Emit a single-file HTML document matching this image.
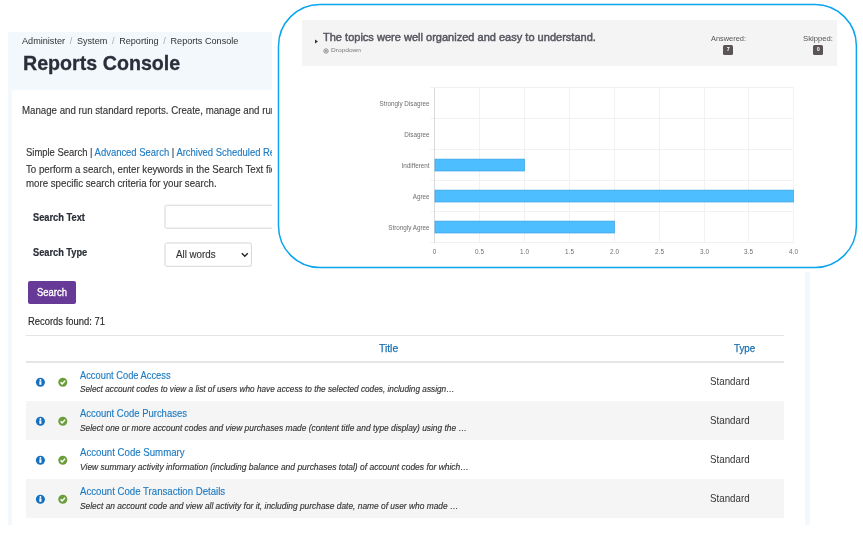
<!DOCTYPE html>
<html lang="en">
<head>
<meta charset="utf-8">
<title>Reports Console</title>
<style>
html,body{margin:0;padding:0;}
body{width:863px;height:534px;overflow:hidden;background:#fff;position:relative;
  font-family:"Liberation Sans",sans-serif;color:#333;}
.abs{position:absolute;white-space:nowrap;line-height:1;transform-origin:0 50%;}
#pagebg{left:8px;top:32px;width:802px;height:492.6px;background:#f2f8fc;}
#card{left:12px;top:90px;width:793px;height:434.6px;background:#fff;border-radius:2.5px 2.5px 0 0;}
.t{font-size:11.2px;color:#333;transform-origin:0 50%;-webkit-text-stroke:0.15px #333;}
.lnk{color:#1b7ac2;-webkit-text-stroke:0.15px #1b7ac2;}
.b{font-weight:bold;color:#2a2e38;font-size:10px;-webkit-text-stroke:0.2px #2a2e38;}
#crumb{left:22px;top:36.2px;font-size:9.8px;color:#333;}
#crumb i{font-style:normal;color:#aaa;padding:0 5px;}
#h1{left:22.8px;top:52.65px;font-size:20.5px;font-weight:bold;color:#2b2e3a;-webkit-text-stroke:0.3px #2b2e3a;}
.row{left:25.5px;width:758.5px;height:39px;}
.gray{background:#f5f5f5;}
.ttl{left:79.7px;font-size:11.4px;color:#1b7ac2;-webkit-text-stroke:0.15px #1b7ac2;}
.dsc{left:79.5px;font-size:8.6px;font-style:italic;color:#333;-webkit-text-stroke:0.15px #333;}
.std{left:709.7px;font-size:11.2px;color:#333;}
.ico{width:9px;height:9px;}
#ovl{left:272px;top:0;width:591px;height:272px;background:#fff;}
#qhead{left:302px;top:20px;width:535px;height:45.5px;background:#f4f4f4;}
</style>
</head>
<body>
<div class="abs" id="pagebg"></div>
<div class="abs" id="card"></div>

<div class="abs" id="crumb" style="transform:scaleX(0.9303);">Administer<i>/</i>System<i>/</i>Reporting<i>/</i>Reports Console</div>
<div class="abs" id="h1" style="transform:scaleX(0.9584);">Reports Console</div>

<div class="abs t" id="p1" style="transform:scaleX(0.8659);left:22px;top:105px;">Manage and run standard reports. Create, manage and run scheduled reports from this console.</div>

<div class="abs t" id="p2" style="transform:scaleX(0.8443);left:26px;top:146.5px;">Simple Search | <span class="lnk">Advanced Search</span> | <span class="lnk">Archived Scheduled Reports</span></div>
<div class="abs t" id="p3" style="transform:scaleX(0.8659);left:26px;top:164px;">To perform a search, enter keywords in the Search Text field. Use the Advanced Search for</div>
<div class="abs t" id="p4" style="transform:scaleX(0.8659);left:26px;top:178px;">more specific search criteria for your search.</div>

<div class="abs t b" id="l1" style="transform:scaleX(0.9276);left:33px;top:212.8px;">Search Text</div>

<div class="abs t b" id="l2" style="transform:scaleX(0.9228);left:33px;top:247.8px;">Search Type</div>
<svg class="abs" id="fields" style="left:150px;top:195px;" width="150" height="80" viewBox="150 195 150 80"><rect x="165" y="205.2" width="300" height="23" rx="1.6" fill="#fff" stroke="#d3d7d7" stroke-width="1"/><rect x="165" y="243" width="86.4" height="23.3" rx="1.6" fill="#fff" stroke="#d3d7d7" stroke-width="1"/><path d="M241.8 253.2 L244.8 256.2 L247.8 253.2" fill="none" stroke="#222" stroke-width="1.4"/></svg>
<div class="abs t" id="selt" style="transform:scaleX(0.8488);left:176px;top:249px;font-size:11.5px;">All words</div>

<div class="abs" id="btn" style="left:27.5px;top:280.5px;width:48.5px;height:23px;background:#683a97;border-radius:2px;"></div>
<div class="abs" id="btnt" style="transform:scaleX(0.8284);left:37px;top:286.5px;font-size:11.4px;color:#fff;-webkit-text-stroke:0.35px #fff;">Search</div>
<div class="abs t" id="rec" style="transform:scaleX(0.8410);left:27.8px;top:315.6px;color:#222;">Records found: 71</div>

<div class="abs" id="ln1" style="left:25.5px;top:335px;width:758.5px;height:1px;background:#e4e4e4;"></div>
<div class="abs" id="ln2" style="left:25.5px;top:361px;width:758.5px;height:2px;background:#e5e5e5;"></div>
<div class="abs" id="thTitle" style="transform:scaleX(0.9260);left:379.2px;top:342.5px;font-size:11.2px;color:#1a6faf;-webkit-text-stroke:0.25px #1a6faf;">Title</div>
<div class="abs" id="thType" style="transform:scaleX(0.8778);left:733.5px;top:342.5px;font-size:11.2px;color:#1a6faf;-webkit-text-stroke:0.25px #1a6faf;">Type</div>

<div class="abs row gray" style="top:401.2px;"></div>
<div class="abs row gray" style="top:479.1px;"></div>

<!-- row 1 -->
<div class="abs ttl" id="r1t" style="transform:scaleX(0.8176);top:369.7px;">Account Code Access</div>
<div class="abs dsc" id="r1d" style="transform:scaleX(0.9593);top:385.3px;">Select account codes to view a list of users who have access to the selected codes, including assign…</div>
<div class="abs std" id="r1s" style="transform:scaleX(0.8721);top:376px;">Standard</div>
<!-- row 2 -->
<div class="abs ttl" id="r2t" style="transform:scaleX(0.8316);top:408px;">Account Code Purchases</div>
<div class="abs dsc" id="r2d" style="transform:scaleX(0.9732);top:424.3px;">Select one or more account codes and view purchases made (content title and type display) using the …</div>
<div class="abs std" id="r2s" style="transform:scaleX(0.8721);top:415px;">Standard</div>
<!-- row 3 -->
<div class="abs ttl" id="r3t" style="transform:scaleX(0.8473);top:447.2px;">Account Code Summary</div>
<div class="abs dsc" id="r3d" style="transform:scaleX(0.9858);top:463.3px;">View summary activity information (including balance and purchases total) of account codes for which…</div>
<div class="abs std" id="r3s" style="transform:scaleX(0.8721);top:454px;">Standard</div>
<!-- row 4 -->
<div class="abs ttl" id="r4t" style="transform:scaleX(0.8462);top:486px;">Account Code Transaction Details</div>
<div class="abs dsc" id="r4d" style="transform:scaleX(0.9755);top:502.3px;">Select an account code and view all activity for it, including purchase date, name of user who made …</div>
<div class="abs std" id="r4s" style="transform:scaleX(0.8721);top:493px;">Standard</div>

<!-- icons -->
<svg class="abs" style="left:0;top:0;" width="100" height="534" viewBox="0 0 100 534">
  <g id="icons">
    <g transform="translate(40.4,382.3)"><circle r="4.5" fill="#1670c0"/><rect x="-1.05" y="-1" width="2.1" height="3.5" fill="#fff"/><circle cy="-2.3" r="0.95" fill="#fff"/></g>
    <g transform="translate(62.8,382.3)"><circle r="4.5" fill="#6a9e3a"/><path d="M-2.2 0 L-0.7 1.6 L2.3 -1.5" fill="none" stroke="#fff" stroke-width="1.5"/></g>
    <g transform="translate(40.4,421.3)"><circle r="4.5" fill="#1670c0"/><rect x="-1.05" y="-1" width="2.1" height="3.5" fill="#fff"/><circle cy="-2.3" r="0.95" fill="#fff"/></g>
    <g transform="translate(62.8,421.3)"><circle r="4.5" fill="#6a9e3a"/><path d="M-2.2 0 L-0.7 1.6 L2.3 -1.5" fill="none" stroke="#fff" stroke-width="1.5"/></g>
    <g transform="translate(40.4,460.3)"><circle r="4.5" fill="#1670c0"/><rect x="-1.05" y="-1" width="2.1" height="3.5" fill="#fff"/><circle cy="-2.3" r="0.95" fill="#fff"/></g>
    <g transform="translate(62.8,460.3)"><circle r="4.5" fill="#6a9e3a"/><path d="M-2.2 0 L-0.7 1.6 L2.3 -1.5" fill="none" stroke="#fff" stroke-width="1.5"/></g>
    <g transform="translate(40.4,499.3)"><circle r="4.5" fill="#1670c0"/><rect x="-1.05" y="-1" width="2.1" height="3.5" fill="#fff"/><circle cy="-2.3" r="0.95" fill="#fff"/></g>
    <g transform="translate(62.8,499.3)"><circle r="4.5" fill="#6a9e3a"/><path d="M-2.2 0 L-0.7 1.6 L2.3 -1.5" fill="none" stroke="#fff" stroke-width="1.5"/></g>
  </g>
</svg>

<!-- overlay -->
<div class="abs" id="ovl"></div>
<svg class="abs" id="frame" style="left:272px;top:0;" width="591" height="272" viewBox="272 0 591 272"><rect x="278.5" y="4.5" width="577.9" height="263" rx="41.5" ry="41.5" fill="none" stroke="#0aa5ee" stroke-width="1.5"/></svg>
<div class="abs" id="qhead"></div>
<svg class="abs" style="left:314.4px;top:39.1px;" width="5" height="5" viewBox="0 0 5 5"><path d="M1 0.5 L4 2.5 L1 4.5 Z" fill="#333"/></svg>
<div class="abs" id="qt" style="transform:scaleX(1.0217);left:322.6px;top:31.9px;font-size:10.8px;color:#55555f;-webkit-text-stroke:0.45px #55555f;">The topics were well organized and easy to understand.</div>
<svg class="abs" style="left:322.5px;top:47.5px;" width="6" height="6" viewBox="0 0 6 6"><circle cx="3" cy="3" r="2.2" fill="none" stroke="#777" stroke-width="0.8"/><circle cx="3" cy="3" r="0.9" fill="#777"/></svg>
<div class="abs" id="dd" style="transform:scaleX(1.1765);left:331px;top:47.5px;font-size:5.6px;color:#777;">Dropdown</div>
<div class="abs" id="ans" style="transform:scaleX(1.0022);left:710.8px;top:35.2px;font-size:7.4px;color:#555;">Answered:</div>
<div class="abs" id="ansb" style="left:723.4px;top:44.9px;width:9.5px;height:9.8px;background:#5a5456;border-radius:1.5px;color:#fff;font-size:5.4px;font-weight:bold;text-align:center;line-height:9px;">7</div>
<div class="abs" id="skp" style="transform:scaleX(1.0429);left:803.4px;top:35.2px;font-size:7.4px;color:#555;">Skipped:</div>
<div class="abs" id="skpb" style="left:813.4px;top:44.9px;width:9.5px;height:9.8px;background:#5a5456;border-radius:1.5px;color:#fff;font-size:5.4px;font-weight:bold;text-align:center;line-height:9px;">0</div>

<svg class="abs" id="chart" style="left:340px;top:80px;" width="500" height="185" viewBox="340 80 500 185" font-family="Liberation Sans, sans-serif">
  <g stroke="#f2f2f2" stroke-width="1" shape-rendering="crispEdges">
    <line x1="429.5" x2="793.5" y1="87.5" y2="87.5"/>
    <line x1="429.5" x2="793.5" y1="118.5" y2="118.5"/>
    <line x1="429.5" x2="793.5" y1="149.5" y2="149.5"/>
    <line x1="429.5" x2="793.5" y1="180.5" y2="180.5"/>
    <line x1="429.5" x2="793.5" y1="211.5" y2="211.5"/>
    <line x1="429.5" x2="793.5" y1="242.5" y2="242.5"/>
    <line y1="87.5" y2="242.5" x1="479.5" x2="479.5"/>
    <line y1="87.5" y2="242.5" x1="524.5" x2="524.5"/>
    <line y1="87.5" y2="242.5" x1="569.5" x2="569.5"/>
    <line y1="87.5" y2="242.5" x1="614.5" x2="614.5"/>
    <line y1="87.5" y2="242.5" x1="659.5" x2="659.5"/>
    <line y1="87.5" y2="242.5" x1="704.5" x2="704.5"/>
    <line y1="87.5" y2="242.5" x1="748.5" x2="748.5"/>
    <line y1="87.5" y2="242.5" x1="793.5" x2="793.5"/>
  </g>
  <line x1="434.5" x2="434.5" y1="87.5" y2="242.5" stroke="#dadada" stroke-width="1" shape-rendering="crispEdges"/>
  <g fill="#4dbeff" stroke="#3ba3e4" stroke-width="0.7">
    <rect x="435" y="159.1" width="89.5" height="11.9"/>
    <rect x="435" y="190.1" width="358.5" height="11.9"/>
    <rect x="435" y="221.1" width="179.5" height="11.9"/>
  </g>
  <g font-size="6.3" fill="#6e6e6e" text-anchor="end">
    <text x="429.5" y="105.5">Strongly Disagree</text>
    <text x="429.5" y="136.5">Disagree</text>
    <text x="429.5" y="167.5">Indifferent</text>
    <text x="429.5" y="198.5">Agree</text>
    <text x="429.5" y="229.5">Strongly Agree</text>
  </g>
  <g font-size="6.4" fill="#6e6e6e" text-anchor="middle">
    <text x="434.5" y="253.6">0</text>
    <text x="479.5" y="253.6">0.5</text>
    <text x="524.5" y="253.6">1.0</text>
    <text x="569.5" y="253.6">1.5</text>
    <text x="614.5" y="253.6">2.0</text>
    <text x="659.5" y="253.6">2.5</text>
    <text x="704.5" y="253.6">3.0</text>
    <text x="748.5" y="253.6">3.5</text>
    <text x="793.5" y="253.6">4.0</text>
  </g>
</svg>
</body>
</html>
